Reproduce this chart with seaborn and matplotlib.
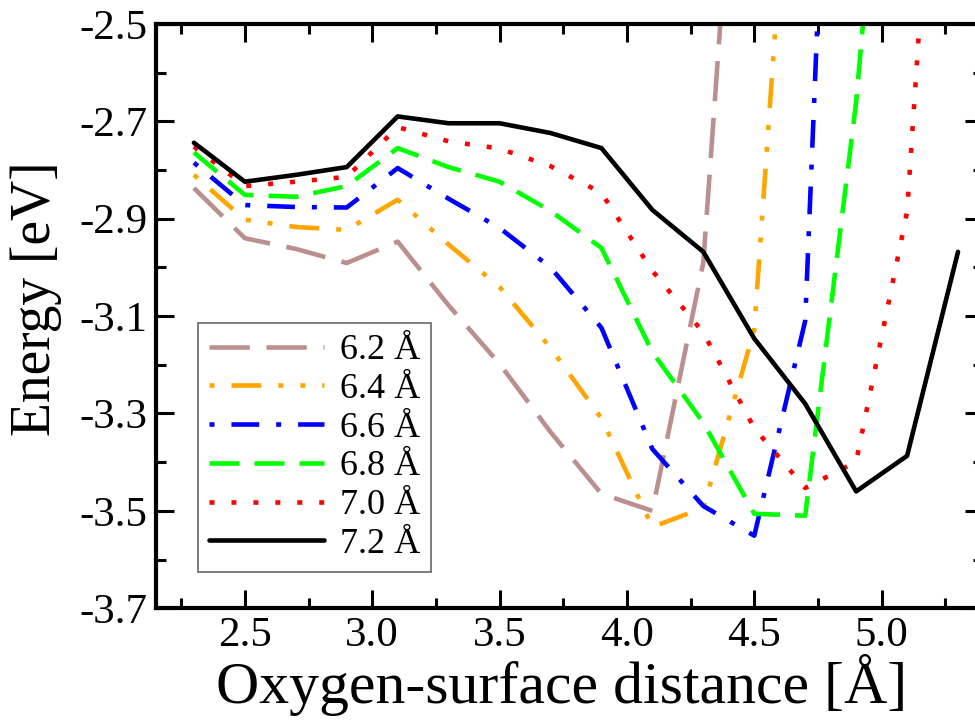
import numpy as np
import pandas as pd
import seaborn as sns
import matplotlib
matplotlib.use("Agg")
import matplotlib.pyplot as plt
from matplotlib.ticker import MultipleLocator

# distancia oxigenio-superficie (A) e energia (eV) para cada tamanho de celula
x_62 = [2.3, 2.5, 2.7, 2.9, 3.1, 3.3, 3.5, 3.7, 3.9, 4.1, 4.3, 4.5]
e_62 = [-2.837, -2.940, -2.962, -2.991, -2.947, -3.078, -3.198, -3.338, -3.465, -3.500, -2.990, -1.52]

x_64 = [2.3, 2.5, 2.7, 2.9, 3.1, 3.3, 3.5, 3.7, 3.9, 4.1, 4.3, 4.5, 4.7]
e_64 = [-2.810, -2.902, -2.917, -2.923, -2.861, -2.953, -3.040, -3.165, -3.310, -3.533, -3.494, -3.128, -1.63]

x_66 = [2.3, 2.5, 2.7, 2.9, 3.1, 3.3, 3.5, 3.7, 3.9, 4.1, 4.3, 4.5, 4.7, 4.9]
e_66 = [-2.785, -2.872, -2.876, -2.877, -2.796, -2.859, -2.919, -3.000, -3.124, -3.373, -3.490, -3.551, -3.110, -0.55]

x_68 = [2.3, 2.5, 2.7, 2.9, 3.1, 3.3, 3.5, 3.7, 3.9, 4.1, 4.3, 4.5, 4.7, 4.9, 5.1]
e_68 = [-2.764, -2.851, -2.855, -2.833, -2.755, -2.794, -2.824, -2.884, -2.960, -3.174, -3.319, -3.506, -3.510, -2.660, -1.47]

x_70 = [2.3, 2.5, 2.7, 2.9, 3.1, 3.3, 3.5, 3.7, 3.9, 4.1, 4.3, 4.5, 4.7, 4.9, 5.1, 5.3]
e_70 = [-2.752, -2.833, -2.824, -2.814, -2.712, -2.741, -2.756, -2.792, -2.847, -3.007, -3.134, -3.330, -3.453, -3.399, -2.886, -1.30]

x_72 = [2.3, 2.5, 2.7, 2.9, 3.1, 3.3, 3.5, 3.7, 3.9, 4.1, 4.3, 4.5, 4.7, 4.9, 5.1, 5.3]
e_72 = [-2.744, -2.824, -2.810, -2.794, -2.690, -2.704, -2.704, -2.724, -2.755, -2.882, -2.968, -3.146, -3.280, -3.460, -3.387, -2.968]

labels = ["6.2 Å", "6.4 Å", "6.6 Å", "6.8 Å", "7.0 Å", "7.2 Å"]
cores = ["#BC8F8F", "#FFA500", "#0000FF", "#00FF00", "#FF0000", "#000000"]
# padroes de tracejado em pontos
estilos = [
    (0, (29, 12)),
    (0, (3.6, 12.2, 21.6, 12.2, 3.6, 12.2)),
    (0, (3.6, 12.2, 20, 12.2)),
    (0, (21.6, 10.8)),
    (0, (3.6, 12.2)),
    "-",
]

series = [(x_62, e_62), (x_64, e_64), (x_66, e_66), (x_68, e_68), (x_70, e_70), (x_72, e_72)]

sns.set_style("ticks")
plt.rcParams["font.family"] = ["Liberation Serif", "DejaVu Serif"]
plt.rcParams["axes.unicode_minus"] = False
plt.rcParams["lines.scale_dashes"] = False
for k in ["text.color", "axes.labelcolor", "xtick.color", "ytick.color", "axes.edgecolor"]:
    plt.rcParams[k] = "black"

fig = plt.figure(figsize=(9.75, 7.25), dpi=100)
ax = fig.add_axes([0.1597, 0.161, 0.849, 0.806])

for (xs, es), lab, cor, ls in zip(series, labels, cores, estilos):
    df = pd.DataFrame({"d": xs, "E": es})
    sns.lineplot(data=df, x="d", y="E", ax=ax, color=cor, linestyle=ls,
                 linewidth=3.3, label=lab, errorbar=None, legend=False)

ax.set_xlim(2.15, 5.4)
ax.set_ylim(-3.7, -2.5)
ax.xaxis.set_minor_locator(MultipleLocator(0.25))
ax.yaxis.set_minor_locator(MultipleLocator(0.1))
ax.set_yticks([-3.7, -3.5, -3.3, -3.1, -2.9, -2.7, -2.5])
ax.set_yticklabels(["-3.7", "-3.5", "-3.3", "-3.1", "-2.9", "-2.7", "-2.5"])
ax.set_xticks([2.5, 3.0, 3.5, 4.0, 4.5, 5.0])
ax.set_xticklabels(["2.5", "3.0", "3.5", "4.0", "4.5", "5.0"])

for s in ax.spines.values():
    s.set_linewidth(3)
    s.set_color("black")
ax.tick_params(which="both", direction="in", top=True, right=True, width=2.2, colors="black")
ax.tick_params(which="major", length=13, labelsize=31)
ax.tick_params(which="minor", length=7)
ax.tick_params(axis="x", which="major", pad=6)
ax.tick_params(axis="y", which="major", pad=6)

ax.set_xlabel("Oxygen-surface distance [Å]", fontsize=43)
ax.set_ylabel("Energy [eV]", fontsize=40)
ax.xaxis.set_label_coords(0.49, -0.078)
ax.yaxis.set_label_coords(-0.113, 0.529)

handles = ax.get_lines()[:6]
leg = ax.legend(handles, labels, loc="lower left", bbox_to_anchor=(0.0507, 0.0626),
                borderaxespad=0, fontsize=26, handlelength=3.2, handletextpad=0.45,
                borderpad=0.3, labelspacing=0.15, fancybox=False, framealpha=1)
leg.get_frame().set_edgecolor("#666666")
leg.get_frame().set_linewidth(1.2)

fig.savefig("out.png", dpi=100)
